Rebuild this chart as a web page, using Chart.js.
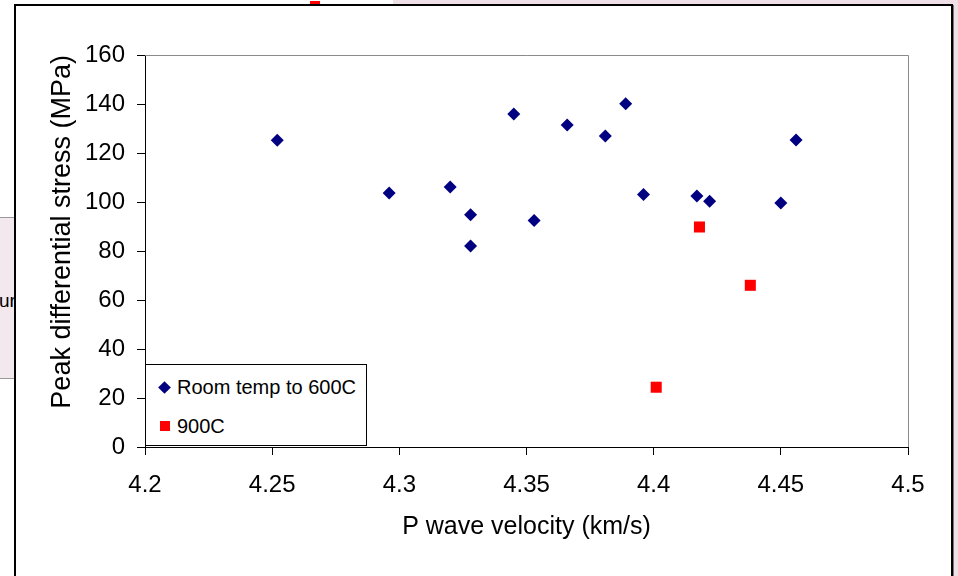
<!DOCTYPE html>
<html>
<head>
<meta charset="utf-8">
<script src="https://cdn.jsdelivr.net/npm/chart.js@4/dist/chart.umd.min.js"></script>
<style>
  html, body { margin: 0; padding: 0; background: #fff; }
  body { width: 958px; height: 576px; position: relative; overflow: hidden; font-family: "Liberation Sans", Arial, sans-serif; }
  #slideTop { position: absolute; left: 393px; top: 0; width: 565px; height: 5px; background: #efdfe6; }
  #slideRight { position: absolute; left: 954px; top: 0; width: 4px; height: 576px; background: #efdfe6; }
  #redBit { position: absolute; left: 310px; top: 1px; width: 10px; height: 3px; background: #f00; }
  #sideBox { position: absolute; left: 0; top: 217px; width: 16px; height: 160px; background: #f3e8ee;
             border-top: 1px solid #999; border-bottom: 1px solid #999; }
  #sideBox span { position: absolute; left: -1px; top: 72px; font-size: 19px; color: #000; }
  #frame { position: absolute; left: 14px; top: 4px; width: 935px; height: 600px; background: #fff;
           border: 2px solid #000; box-shadow: 1px 1px 0 #777; }
  #wrap { position: absolute; left: 0; top: 0; width: 958px; height: 576px; }
  #legend { position: absolute; left: 145px; top: 364px; width: 220px; height: 80px; background: #fff;
            border: 1px solid #000; font-size: 20px; color: #000; }
  .item { position: absolute; left: 0; height: 24px; line-height: 24px; white-space: nowrap; }
  .mark { position: absolute; }
  .item .txt { position: absolute; left: 31px; top: 0; }
</style>
</head>
<body>
<div id="slideTop"></div>
<div id="slideRight"></div>
<div id="redBit"></div>
<div id="sideBox"><span>ur</span></div>
<div id="frame"></div>
<div id="wrap"><canvas id="chart" width="958" height="576"></canvas></div>
<div id="legend"></div>
<script>
// Room temperature to 600C samples
const roomVelocity = [4.252, 4.296, 4.320, 4.328, 4.328, 4.345, 4.353, 4.366, 4.381, 4.389, 4.396, 4.417, 4.422, 4.450, 4.456];
const roomStress   = [125.2, 103.7, 106.1, 94.8, 82.0, 135.9, 92.5, 131.4, 126.9, 140.1, 103.1, 102.4, 100.3, 99.6, 125.3];

// 900C samples
const hotVelocity = [4.418, 4.438, 4.401];
const hotStress   = [89.8, 66.0, 24.4];

const seriesNames = ['Room temp to 600C', '900C'];
const xTickValues = [4.2, 4.25, 4.3, 4.35, 4.4, 4.45, 4.5];
const yTickValues = [0, 20, 40, 60, 80, 100, 120, 140, 160];

const FONT = '"Liberation Sans", Arial, sans-serif';

function toPoints(xs, ys) {
  return xs.map((x, i) => ({ x: x, y: ys[i] }));
}

// gray border on top and right of the plot area, like Excel
const plotFrame = {
  id: 'plotFrame',
  afterDatasetsDraw(chart) {
    const a = chart.chartArea;
    const ctx = chart.ctx;
    ctx.save();
    ctx.strokeStyle = '#8a8a8a';
    ctx.lineWidth = 1;
    ctx.beginPath();
    ctx.moveTo(a.left, a.top + 0.5);
    ctx.lineTo(a.right + 0.5, a.top + 0.5);
    ctx.lineTo(a.right + 0.5, a.bottom);
    ctx.stroke();
    ctx.restore();
  }
};

const chart = new Chart(document.getElementById('chart'), {
  type: 'scatter',
  data: {
    datasets: [{
      label: seriesNames[0],
      data: toPoints(roomVelocity, roomStress),
      pointStyle: 'rectRot',
      pointRadius: 6.5,
      pointBackgroundColor: '#000080',
      pointBorderColor: '#000080',
      pointBorderWidth: 0,
    }, {
      label: seriesNames[1],
      data: toPoints(hotVelocity, hotStress),
      pointStyle: 'rect',
      pointRadius: 7.8,
      pointBackgroundColor: '#ff0000',
      pointBorderColor: '#ff0000',
      pointBorderWidth: 0,
    }],
  },
  options: {
    responsive: false,
    animation: false,
    layout: { padding: { top: 55, right: 50, left: 0, bottom: 0 } },
    plugins: {
      legend: { display: false },
      tooltip: { enabled: false },
    },
    scales: {
      x: {
        type: 'linear',
        min: 4.2,
        max: 4.5,
        afterBuildTicks: axis => { axis.ticks = xTickValues.map(v => ({ value: v })); },
        afterFit: axis => { axis.height = 129; },
        ticks: {
          color: '#000',
          font: { family: FONT, size: 24 },
          padding: 16,
          maxRotation: 0,
          callback: v => String(parseFloat(v.toFixed(2))),
        },
        grid: { drawOnChartArea: false, tickLength: 8, color: '#000' },
        border: { color: '#000', width: 1 },
        title: {
          display: true,
          text: 'P wave velocity (km/s)',
          color: '#000',
          font: { family: FONT, size: 25 },
          padding: { top: 0, bottom: 34 },
        },
      },
      y: {
        type: 'linear',
        min: 0,
        max: 160,
        afterBuildTicks: axis => { axis.ticks = yTickValues.map(v => ({ value: v })); },
        afterFit: axis => { axis.width = 145; },
        ticks: {
          color: '#000',
          font: { family: FONT, size: 24 },
          padding: 12,
        },
        grid: { drawOnChartArea: false, tickLength: 8, color: '#000' },
        border: { color: '#000', width: 1 },
        title: {
          display: true,
          text: 'Peak differential stress (MPa)',
          align: 'end',
          color: '#000',
          font: { family: FONT, size: 27 },
          padding: { top: 46, bottom: 0 },
        },
      },
    },
  },
  plugins: [plotFrame],
});

// legend box inside the plot, built from the datasets
const legendEl = document.getElementById('legend');
const legendTops = [10, 49];
chart.data.datasets.forEach((ds, i) => {
  const item = document.createElement('div');
  item.className = 'item';
  item.style.top = legendTops[i] + 'px';
  const mark = document.createElement('div');
  mark.className = 'mark';
  if (ds.pointStyle === 'rectRot') {
    mark.style.cssText = 'left:14px;top:8px;width:9px;height:9px;transform:rotate(45deg);background:' + ds.pointBackgroundColor;
  } else {
    mark.style.cssText = 'left:14px;top:7px;width:10px;height:10px;background:' + ds.pointBackgroundColor;
  }
  const txt = document.createElement('span');
  txt.className = 'txt';
  txt.textContent = ds.label;
  item.appendChild(mark);
  item.appendChild(txt);
  legendEl.appendChild(item);
});
</script>
</body>
</html>
